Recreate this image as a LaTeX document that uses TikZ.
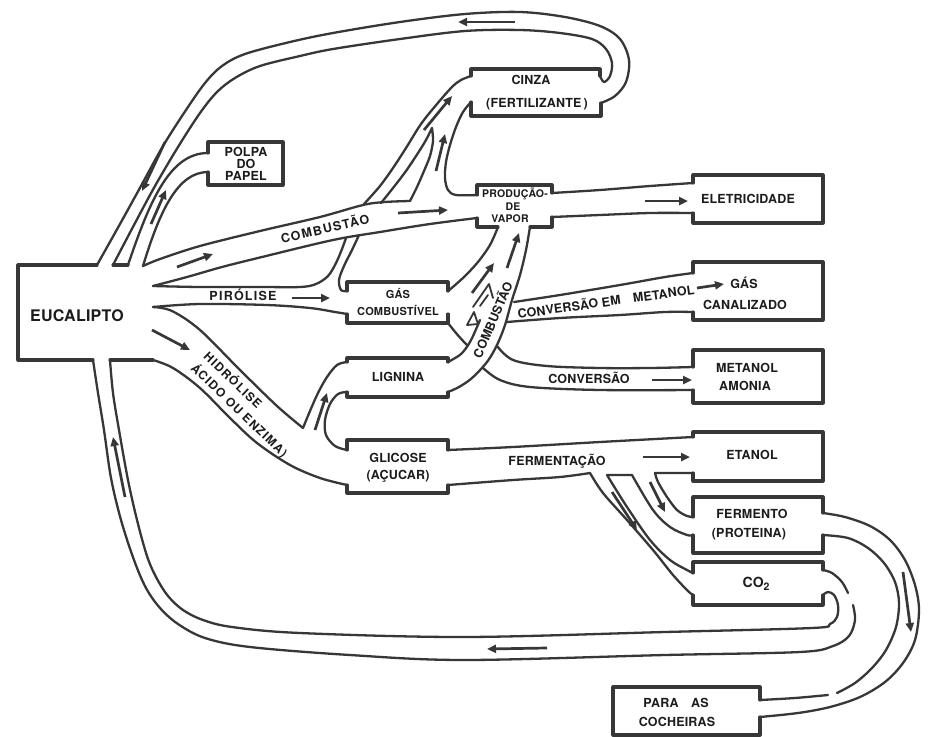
\documentclass[tikz,border=0pt]{standalone}
\usepackage{fontspec}
\newfontfamily\labfont{TeX Gyre Heros}[LetterSpace=1.5]
\newfontfamily\widefont{TeX Gyre Heros}[LetterSpace=10]
\usetikzlibrary{arrows.meta}
\definecolor{ink}{RGB}{55,55,55}
\definecolor{inktext}{RGB}{28,28,28}
\begin{document}
\begin{tikzpicture}[x=1pt,y=-1pt,
  wall/.style={draw=ink, line width=2.3pt, line cap=round, line join=round},
  boxline/.style={draw=ink, line width=3.1pt, line cap=round, line join=round},
  flow/.style={draw=ink, line width=2.7pt, -{Triangle[length=9pt,width=8pt]}},
  lab/.style={text=inktext, inner sep=0pt, text height=9pt, text depth=0pt,
              font=\labfont\bfseries\fontsize{12.5}{13.5}\selectfont},
  labw/.style={lab, font=\widefont\bfseries\fontsize{12.5}{13.5}\selectfont},
  labs/.style={lab, text height=7.6pt, font=\labfont\bfseries\fontsize{10.5}{12}\selectfont},
  sm/.style={smooth, tension=0.55}]
\fill[white] (0,0) rectangle (930,737);
\useasboundingbox (0,0) rectangle (930,737);

% ---------- EUCALIPTO ----------
\draw[boxline] (97,265) -- (18,265) -- (18,360) -- (93,360);
\draw[boxline] (113,265) -- (128,265);
\draw[boxline] (110,360) -- (153,360);
\node[lab, text height=11.5pt, font=\labfont\bfseries\fontsize{16}{18}\selectfont] (euc) at (77,316) {EUCALIPTO};

% ---------- return loop: CINZA -> EUCALIPTO ----------
\draw[wall] plot[sm] coordinates {(97,265) (120,224) (141,186) (163,146) (186,110) (205,83) (222,66) (245,54) (290,42) (333,33) (400,22) (465,14) (520,12) (565,17) (600,26) (620,39) (629,60) (626,82) (615,96) (601,103)};
\draw[wall] plot[sm] coordinates {(113,265) (134,225) (155,186) (178,147) (200,113) (217,92) (235,78) (260,66) (300,56) (333,49) (400,39) (465,31) (520,30) (560,33) (592,39) (606,49) (612,63) (610,76) (604,82) (600,76)};
\draw[flow] (165,142) -- (142,191);
\draw[flow] (515,22) -- (458,22);

% ---------- CINZA ----------
\draw[boxline] (600,76) -- (600,69) -- (471,69) -- (471,76);
\draw[boxline] (601,103) -- (601,116) -- (471,116) -- (471,102);
\node[lab] (cinza) at (531,80) {CINZA};
\node[lab] (fert) at (537,103) {(FERTILIZANTE\,)};

% pipe feeding CINZA
\draw[wall] plot[sm] coordinates {(471,76) (461,80) (452,87) (437,104) (421,124) (406,148) (393,168) (380,186) (364,204)};
\draw[wall] plot[sm] coordinates {(471,102) (463,112) (456,127) (450,145) (446,162) (445,178) (448,190) (456,195) (477,195)};
\draw[wall] plot[smooth,tension=0.5] coordinates {(381,203) (393,188) (406,171) (418,153) (426,140) (432,128)}
   -- plot[smooth,tension=0.5] coordinates {(432,128) (433,141) (430,156) (424,171) (417,187) (410,201)};
\draw[flow] (424,130) -- (452,96);
\draw[flow] (436,171) -- (445,134);

% ---------- POLPA DO PAPEL ----------
\draw[wall] (128,265) .. controls (150,200) and (170,153) .. (208,153);
\draw[wall] (143,266) .. controls (160,210) and (178,172) .. (208,172);
\draw[boxline] (208,153) -- (208,142) -- (283,142) -- (283,185) -- (208,185) -- (208,172);
\node[lab] (polpa1) at (246,152) {POLPA};
\node[lab] (polpa2) at (246,164) {DO};
\node[lab] (polpa3) at (246,176) {PAPEL};
\draw[flow] (151,224) -- (166,190);

% ---------- COMBUSTAO ----------
\draw[wall] plot[sm] coordinates {(143,266) (160,259) (200,246) (260,231) (320,217) (363,205) (385,202) (410,201)};
\draw[wall] plot[sm] coordinates {(153,286) (187,277) (222,267) (262,257) (333,240) (380,232) (430,224) (477,218)};
\node[labw, rotate=13] (comb1) at (325,229) {COMBUSTÃO};
\draw[flow] (177,267) -- (213,254);
\draw[flow] (398,213) -- (448,210);

% ---------- PIROLISE / GAS COMBUSTIVEL ----------
\draw[wall] plot[sm] coordinates {(153,286) (200,287) (260,287) (300,287) (316,284) (328,276) (336,263) (342,249) (346,238)};
\draw[wall] plot[sm] coordinates {(359,235) (352,250) (344,266) (339,280) (341,290) (347,291)};
\draw[wall] plot[sm] coordinates {(153,307) (200,304) (267,305) (310,308) (335,312) (347,314)};
\draw[boxline] (347,291) -- (347,282) -- (448,282) -- (448,291);
\draw[boxline] (448,314) -- (448,323) -- (347,323) -- (347,314);
\node[labw] (piro) at (243,296) {PIRÓLISE};
\draw[flow] (292,298) -- (330,298);
\node[labs, font=\labfont\bfseries\fontsize{11}{12}\selectfont] (gas1) at (398,295) {GÁS};
\node[labs, font=\labfont\bfseries\fontsize{11}{12}\selectfont] (gas2) at (398,312) {COMBUSTÍVEL};

% ---------- PRODUCAO DE VAPOR ----------
\draw[boxline] (477,195) -- (477,185) -- (552,185) -- (552,193);
\draw[boxline] (477,218) -- (477,227) -- (498,227);
\draw[boxline] (530,227) -- (552,227) -- (552,217);
\node[labs] (prod1) at (515,194) {PRODUÇÃO-};
\node[labs] (prod2) at (513,207) {DE};
\node[labs] (prod3) at (510,219) {VAPOR};

% ---------- ELETRICIDADE ----------
\draw[wall] plot[sm] coordinates {(552,193) (600,190) (650,186) (693,183)};
\draw[wall] plot[sm] coordinates {(552,217) (600,215) (650,213) (693,213)};
\draw[boxline] (693,183) -- (693,175) -- (823,175) -- (823,223) -- (693,223) -- (693,213);
\node[lab] (elet) at (748,199) {ELETRICIDADE};
\draw[flow] (645,201) -- (688,201);

% ---------- pipe into PRODUCAO from below ----------
\draw[wall] plot[sm] coordinates {(498,227) (490,245) (478,262) (465,276) (454,286) (448,291)};
\draw[wall] plot[sm] coordinates {(530,227) (526,250) (520,275) (512,300) (505,325) (497,345) (487,362) (472,378) (459,387) (448,392)};
\draw[wall] plot[sm] coordinates {(448,362) (461,354) (470,342) (477,327) (480,320)};
\draw[wall, line width=1.8pt] (473,307) -- (489,284) -- (493,298);
\draw[wall, line width=1.8pt] (480,306) -- (488,295);
\draw[wall, line width=1.8pt] (467,325) -- (474,312) -- (478,324) -- cycle;
\draw[wall] (448,323) .. controls (455,332) and (460,338) .. (467,345);
\node[lab, rotate=67] (comb2) at (493,320) {COMBUSTÃO};
\draw[flow] (507,268) -- (519,233);
\draw[flow] (472,293) -- (494,263);

% ---------- GAS CANALIZADO ----------
\draw[wall] plot[sm] coordinates {(514,302) (560,295) (620,285) (665,277) (693,273)};
\draw[wall] plot[sm] coordinates {(507,322) (560,318) (620,315) (665,312) (693,312)};
\draw[boxline] (693,273) -- (693,262) -- (823,262) -- (823,320) -- (693,320) -- (693,312);
\node[lab, rotate=8] (conv1) at (606,302) {CONVERSÃO EM\quad METANOL};
\node[lab] (gc1) at (744,284) {GÁS};
\node[lab] (gc2) at (745,305) {CANALIZADO};
\draw[flow] (697,288) -- (724,284);

% ---------- METANOL AMONIA ----------
\draw[wall] plot[sm] coordinates {(497,346) (513,360) (547,366) (600,368) (650,368) (693,367)};
\draw[wall] plot[sm] coordinates {(483,368) (500,380) (530,387) (600,390) (693,390)};
\draw[boxline] (693,367) -- (693,350) -- (823,350) -- (823,403) -- (693,403) -- (693,390);
\node[lab] (met1) at (747,368) {METANOL};
\node[lab] (met2) at (745,386) {AMONIA};
\node[lab] (conv2) at (589,379) {CONVERSÃO};
\draw[flow] (652,380) -- (692,380);

% ---------- LIGNINA ----------
\draw[boxline] (448,362) -- (448,358) -- (347,358) -- (347,362);
\draw[boxline] (347,392) -- (347,397) -- (448,397) -- (448,392);
\node[lab] (lig) at (398,377) {LIGNINA};

% ---------- HIDROLISE ----------
\draw[wall] plot[sm] coordinates {(153,307) (172,311) (200,330) (240,370) (277,406) (303,428)}
   -- plot[sm] coordinates {(303,428) (310,411) (318,393) (327,377) (337,365) (347,362)};
\draw[wall] plot[sm] coordinates {(153,360) (173,368) (200,388) (230,418) (257,443) (290,465) (320,478) (347,485)};
\draw[wall] plot[sm] coordinates {(347,392) (338,394) (330,404) (325,420) (326,435) (335,446) (347,450)};
\node[labw, font=\widefont\bfseries\fontsize{12}{13}\selectfont, rotate=-44] (hidro) at (233,380) {HIDRÓLISE};
\node[labw, font=\widefont\bfseries\fontsize{12}{13}\selectfont, rotate=-44] (acido) at (239.5,410.5) {ÁCIDO OU ENZIMA)};
\draw[flow] (152,330) -- (190,350);
\draw[flow] (315,430) -- (327,393);

% ---------- GLICOSE ----------
\draw[boxline] (347,450) -- (347,440) -- (448,440) -- (448,450);
\draw[boxline] (448,485) -- (448,493) -- (347,493) -- (347,485);
\node[lab] (glic1) at (398,458) {GLICOSE};
\node[lab] (glic2) at (398,475) {(AÇUCAR)};

% ---------- FERMENTACAO ----------
\draw[wall] plot[sm] coordinates {(448,450) (513,447) (600,442) (693,437)};
\draw[wall] plot[sm] coordinates {(448,485) (513,480) (560,477) (590,473)}
   -- plot[sm] coordinates {(590,473) (603,493) (627,520) (653,550) (673,575) (688,591) (693,595)};
\draw[wall] plot[sm] coordinates {(693,573) (687,570) (670,560) (650,540) (627,507) (607,475)}
   -- (632,475) -- plot[sm] coordinates {(632,475) (653,510) (670,527) (687,535) (693,535)};
\draw[wall] (693,473) -- (655,473) -- plot[sm] coordinates {(655,473) (658,482) (667,497) (677,510) (687,516) (693,517)};
\node[lab] (ferm) at (557,461) {FERMENTAÇÃO};
\draw[flow] (643,457) -- (690,457);
\draw[flow] (612,492) -- (637,530);
\draw[flow] (650,482) -- (665,512);

% ---------- ETANOL / FERMENTO / CO2 ----------
\draw[boxline] (693,437) -- (693,432) -- (823,432) -- (823,481) -- (693,481) -- (693,473);
\node[lab] (etanol) at (752,455) {ETANOL};
\draw[boxline] (693,517) -- (693,497) -- (823,497) -- (823,513);
\draw[boxline] (823,535) -- (823,553) -- (693,553) -- (693,535);
\node[lab] (fermento1) at (752,514) {FERMENTO};
\node[lab] (fermento2) at (749,533) {(PROTEINA)};
\draw[boxline] (693,573) -- (693,562) -- (823,562) -- (823,570);
\draw[boxline] (823,595) -- (823,605) -- (693,605) -- (693,595);
\node[lab, text height=10pt, font=\labfont\bfseries\fontsize{14}{15}\selectfont] (co2) at (756,582) {CO\raisebox{-0.5ex}{\fontsize{10.5}{10}\selectfont 2}};

% ---------- loop: CO2 -> EUCALIPTO ----------
\draw[wall] plot[sm] coordinates {(823,570) (832,573) (842,582) (848,593)};
\draw[wall] plot[sm] coordinates {(853,605) (855,620) (849,636) (833,646) (800,652) (665,655) (465,660) (350,655) (250,647) (205,638) (178,624) (160,608) (146,588) (134,560) (121,520) (111,478) (104,430) (98,393) (93,360)};
\draw[wall] plot[sm] coordinates {(823,595) (828,592) (834,595) (838,605) (837,617) (830,624) (812,628) (665,632) (465,637) (300,633) (232,627) (203,620) (183,610) (168,596) (156,577) (147,556) (137,520) (128,480) (119,430) (113,393) (110,360)};
\draw[flow] (547,648) -- (487,649);
\draw[flow] (125,497) -- (113,437);

% ---------- loop: FERMENTO -> COCHEIRAS ----------
\draw[wall] plot[sm] coordinates {(823,513) (845,517) (870,526) (890,540) (905,560) (915,585) (919,610) (915,640) (903,663) (885,682) (860,697) (830,707) (798,713) (760,717)};
\draw[wall] plot[sm] coordinates {(823,535) (848,538) (868,548) (884,563) (895,582) (899,603) (896,627) (886,650) (872,668) (855,683) (837,693)};
\draw[wall] plot[sm] coordinates {(828,695) (795,698) (760,700)};
\draw[boxline] (760,700) -- (760,687) -- (613,687) -- (613,735) -- (760,735) -- (760,717);
\node[lab] (coch1) at (676,703) {PARA\quad AS};
\node[lab] (coch2) at (677,722) {COCHEIRAS};
\draw[flow] (903,572) -- (911,632);
\end{tikzpicture}
\end{document}
